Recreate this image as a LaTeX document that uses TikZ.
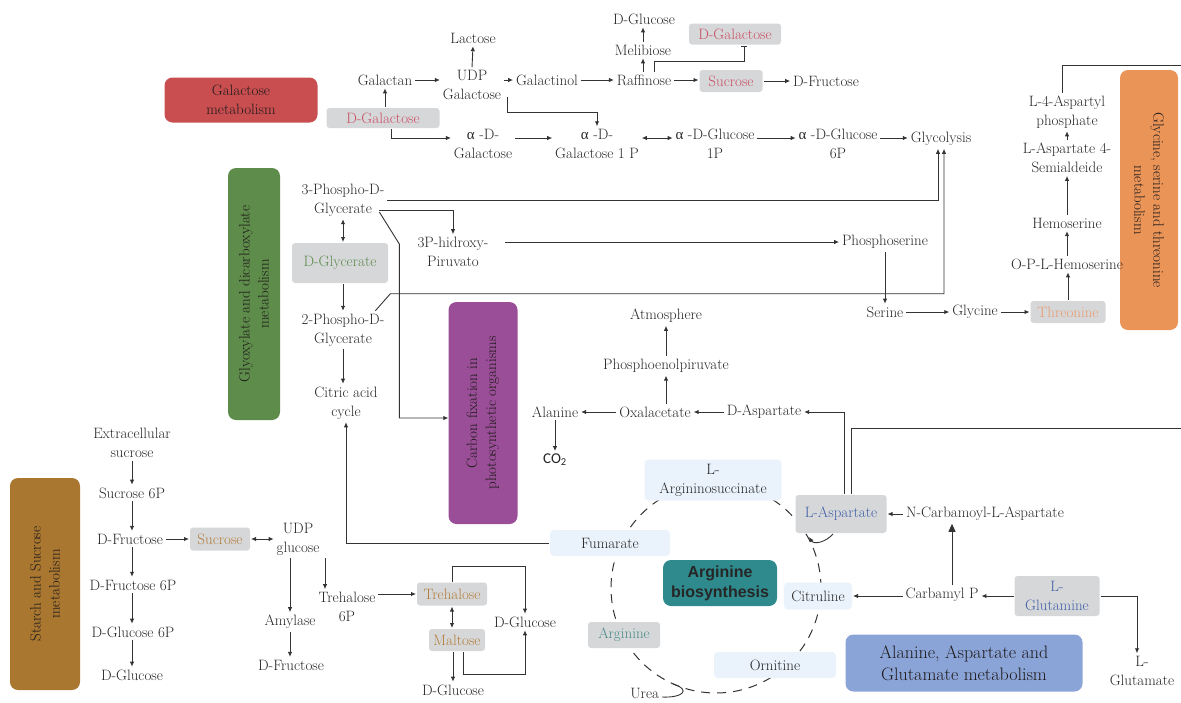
\documentclass[tikz,border=0pt]{standalone}
\usepackage{fontspec}
\newfontfamily\grk{Liberation Serif}
\newfontfamily\sansb{Liberation Sans}
\newfontfamily\carlito{Carlito}
\usetikzlibrary{arrows.meta}
\definecolor{txt}{HTML}{262626}
\definecolor{lin}{HTML}{333333}
\definecolor{boxtxt}{HTML}{1E1A1A}
\definecolor{gbg}{HTML}{D6D7D9}
\definecolor{lbg}{HTML}{EAF2FB}
\definecolor{cred}{HTML}{C84E50}
\definecolor{corange}{HTML}{EA9458}
\definecolor{cgreen}{HTML}{5E8C4A}
\definecolor{cpurple}{HTML}{9A4E97}
\definecolor{cbrown}{HTML}{A97730}
\definecolor{cteal}{HTML}{2E8A8D}
\definecolor{cblue}{HTML}{8BA4D8}
\definecolor{tred}{HTML}{C94E62}
\definecolor{torange}{HTML}{E89A6E}
\definecolor{tgreen}{HTML}{5C8A4C}
\definecolor{tblue}{HTML}{4060A8}
\definecolor{tbrown}{HTML}{B27D3A}
\definecolor{tteal}{HTML}{4A8A88}
\begin{document}
\begin{tikzpicture}[x=1pt,y=-1pt,
  every node/.style={inner sep=1pt},
  lbl/.style={align=center,font=\fontsize{15}{19}\selectfont,text=txt,outer sep=2pt},
  gbox/.style={lbl,fill=gbg,rounded corners=3pt,outer sep=1pt},
  lbox/.style={lbl,fill=lbg,rounded corners=4pt,outer sep=1pt},
  pbox/.style={align=center,font=\fontsize{15}{19}\selectfont,text=boxtxt,rounded corners=8pt},
  ln/.style={draw=lin,line width=0.9pt},
  arr/.style={ln,-{Latex[length=5pt,width=4.5pt]}},
  darr/.style={ln,{Latex[length=5pt,width=4.5pt]}-{Latex[length=5pt,width=4.5pt]}},
  bararr/.style={ln,-{Bar[width=6pt]}},
  dsh/.style={draw=lin,line width=1pt,dash pattern=on 9pt off 7pt},
]
\useasboundingbox (0,0) rectangle (1181,702);

% ---------- Galactose metabolism ----------
\node[pbox,fill=cred,minimum width=153,minimum height=45] (galbox) at (241,100) {Galactose\\metabolism};
\node[lbl] (galactan) at (385,80) {Galactan};
\node[lbl] (udpgal) at (472,85) {UDP\\Galactose};
\node[lbl] (lactose) at (473,38) {Lactose};
\node[gbox,text=tred,minimum width=113,minimum height=20] (dgal1) at (383,118) {D-Galactose};
\node[lbl] (agal) at (483,144) {{\grk α} -D-\\Galactose};
\node[lbl] (galactinol) at (547,80) {Galactinol};
\node[lbl] (agal1p) at (597,144) {{\grk α} -D-\\Galactose 1 P};
\node[lbl] (aglc1p) at (715,144) {{\grk α} -D-Glucose\\1P};
\node[lbl] (aglc6p) at (838,144) {{\grk α} -D-Glucose\\6P};
\node[lbl] (glycolysis) at (941,139) {Glycolysis};
\node[lbl] (raffinose) at (644,80) {Raffinose};
\node[gbox,text=tred,minimum width=63,minimum height=22] (sucrose1) at (731,81) {Sucrose};
\node[lbl] (dfru1) at (826,81) {D-Fructose};
\node[lbl] (melibiose) at (643,50) {Melibiose};
\node[lbl] (dglc1) at (644,19) {D-Glucose};
\node[gbox,text=tred,minimum width=92,minimum height=21] (dgal2) at (735,34) {D-Galactose};

\draw[arr] (galactan.east) -- (galactan.east -| udpgal.west);
\draw[arr] (udpgal.north) -- (lactose.south);
\draw[arr] (udpgal.north east |- galactinol.west) -- (galactinol.west);
\draw[arr] (dgal1.north -| galactan.south) -- (galactan.south);
\draw[arr] ([xshift=8pt]dgal1.south) |- ([yshift=6pt]agal.west);
\draw[arr] ([xshift=3pt,yshift=6pt]udpgal.south east) -- ++(0,16) -| (agal1p.north);
\draw[arr] ([yshift=6pt]agal.east) -- ([yshift=6pt]agal1p.west);
\draw[darr] ([yshift=6pt]agal1p.east) -- ([yshift=6pt]aglc1p.west);
\draw[arr] ([yshift=6pt]aglc1p.east) -- ([yshift=6pt]aglc6p.west);
\draw[arr] ([yshift=6pt]aglc6p.east) -- ([yshift=6pt]aglc6p.east -| glycolysis.west);
\draw[arr] (galactinol.east) -- (galactinol.east -| raffinose.west);
\draw[arr] (raffinose.east) -- (raffinose.east -| sucrose1.west);
\draw[arr] (sucrose1.east) -- (sucrose1.east -| dfru1.west);
\draw[arr] (raffinose.north -| melibiose.south) -- (melibiose.south);
\draw[arr] (melibiose.north) -- (melibiose.north |- dglc1.south);
\draw[bararr] ([xshift=10pt]raffinose.north) -- ++(0,-10) -| ([xshift=9pt]dgal2.south);

% ---------- Glycine, serine and threonine ----------
\node[pbox,fill=corange,rotate=-90,minimum width=260,minimum height=58] (glybox) at (1149,200) {Glycine, serine and threonine\\metabolism};
\node[lbl] (asph) at (1067,112) {L-4-Aspartyl\\phosphate};
\node[lbl] (asa) at (1067,158) {L-Aspartate 4-\\Semialdeide};
\node[lbl] (hem) at (1067,223) {Hemoserine};
\node[lbl] (oph) at (1067,264) {O-P-L-Hemoserine};
\node[gbox,text=torange,minimum width=75,minimum height=22] (thr) at (1068,312) {Threonine};
\node[lbl] (gly) at (975,312) {Glycine};
\node[lbl] (ser) at (885,312) {Serine};
\node[lbl] (phser) at (885,242) {Phosphoserine};
\coordinate (e1) at (1181,65);
\draw[arr] (thr.north) -- (thr.north |- oph.south);
\draw[arr] (oph.north) -- (hem.south);
\draw[arr] (hem.north) -- (asa.south);
\draw[arr] (asa.north) -- (asph.south);
\draw[ln] ([xshift=-5pt]asph.north) |- (e1);
\draw[arr] (ser.east) -- (ser.east -| gly.west);
\draw[arr] (ser.east -| gly.east) -- (ser.east -| thr.west);
\draw[arr] (phser.south) -- (ser.north);

% ---------- Glyoxylate ----------
\node[pbox,fill=cgreen,rotate=90,minimum width=252,minimum height=52] (glxbox) at (254,294) {Glyoxylate and dicarboxylate\\metabolism};
\node[lbl] (p3g) at (343,200) {3-Phospho-D-\\Glycerate};
\node[gbox,text=tgreen,minimum width=96,minimum height=40] (dglyc) at (340,263) {D-Glycerate};
\node[lbl] (p2g) at (343,330) {2-Phospho-D-\\Glycerate};
\node[lbl] (cac) at (346,403) {Citric acid\\cycle};
\node[lbl] (hpyr) at (453,252) {3P-hidroxy-\\Piruvato};
\draw[darr] (p3g.south) -- (p3g.south |- dglyc.north);
\draw[arr] (dglyc.south -| p3g.south) -- (p2g.north);
\draw[arr] (p2g.south) -- (p2g.south |- cac.north);
\draw[arr] (p3g.east) -| ([xshift=-3pt]glycolysis.south);
\draw[arr] ([xshift=-8pt,yshift=-10pt]p3g.east) -| (hpyr.north);
\draw[arr] ([xshift=14pt,yshift=10pt]hpyr.east) -- ([yshift=10pt]hpyr.east -| phser.west);
\draw[arr] ([xshift=-12pt]p2g.north east) -- ++(15,-17) -| ([xshift=3pt]glycolysis.south);

% ---------- Carbon fixation ----------
\node[pbox,fill=cpurple,rotate=90,minimum width=222,minimum height=69] (cfbox) at (483,413) {Carbon fixation in\\photosynthetic organisms};
\node[lbl] (atm) at (666,316) {Atmosphere};
\node[lbl] (pep) at (666,366) {Phosphoenolpiruvate};
\node[lbl] (oxa) at (655,412) {Oxalacetate};
\node[lbl] (ala) at (555,412) {Alanine};
\node[lbl] (co2) at (555,460) {\carlito CO\textsubscript{2}};
\node[lbl] (daspt) at (764,412) {D-Aspartate};
\draw[arr] ([xshift=-8pt,yshift=-12pt]p3g.east) -- ++(20,32) |- ([yshift=-5pt]cfbox.north);
\draw[arr] (pep.south |- oxa.north) -- (pep.south);
\draw[arr] (pep.north) -- (atm.south);
\draw[arr] (oxa.west) -- (ala.east);
\draw[arr] (oxa.east -| daspt.west) -- (oxa.east);
\draw[arr] (ala.south) -- (co2.north);

% ---------- Arginine cycle ----------
\draw[dsh] (716,588) circle[radius=105pt];
\coordinate (u1) at (673,684);
\coordinate (u2) at (662,697);
\coordinate (la) at (809,537);
\draw[ln] (u1) .. controls (692,690) and (682,698) .. (u2);
\node[lbox,minimum width=137,minimum height=41] (larg) at (713,480) {L-\\Argininosuccinate};
\node[gbox,text=tblue,minimum width=91,minimum height=38] (lasp) at (841,514) {L-Aspartate};
\node[lbl] (ncarb) at (985,514) {N-Carbamoyl-L-Aspartate};
\node[lbox,minimum width=120,minimum height=26] (fum) at (610,543) {Fumarate};
\node[pbox,fill=cteal,minimum width=114,minimum height=46,font=\sansb\bfseries\fontsize{16}{20}\selectfont,text=black!85] (argbio) at (720,583) {Arginine\\biosynthesis};
\node[lbox,minimum width=68,minimum height=27] (citr) at (818,596) {Citruline};
\node[lbl] (carbp) at (942,595) {Carbamyl P};
\node[gbox,text=tblue,minimum width=85,minimum height=40] (lgln) at (1057,596) {L-\\Glutamine};
\node[lbl] (lglu) at (1142,671) {L-\\Glutamate};
\node[gbox,text=tteal,minimum width=72,minimum height=26] (arg) at (624,635) {Arginine};
\node[lbox,minimum width=122,minimum height=26] (orn) at (775,665) {Ornitine};
\node[pbox,fill=cblue,minimum width=237,minimum height=57,font=\fontsize{18}{22}\selectfont] (aagbox) at (964,663) {Alanine, Aspartate and\\Glutamate metabolism};
\node[lbl,anchor=east] (urea) at (662,693) {Urea};
\coordinate (e2) at (1181,428);

\draw[arr] ([xshift=-8pt]lasp.south) .. controls (826,542) and (814,545) .. (la);
\draw[arr] ([xshift=3pt]lasp.north) |- (daspt.east);
\draw[ln] ([xshift=10pt]lasp.north) |- (e2);
\draw[arr] (lasp.east -| ncarb.west) -- (lasp.east);
\draw[ln,-{Triangle[length=8pt,width=7pt]}] ([xshift=10pt]carbp.north) -- ([xshift=10pt]carbp.north |- ncarb.south);
\draw[arr] (citr.east -| carbp.west) -- (citr.east);
\draw[arr] (lgln.west) -- (lgln.west -| carbp.east);
\draw[arr] (lgln.east) -| ([xshift=-5pt]lglu.north);
\draw[arr] (fum.west) -| (cac.south);

% ---------- Starch and Sucrose ----------
\node[pbox,fill=cbrown,rotate=90,minimum width=212,minimum height=70] (ssbox) at (45,584) {Starch and Sucrose\\metabolism};
\node[lbl] (exsuc) at (132,443) {Extracellular\\sucrose};
\node[lbl] (suc6p) at (132,493) {Sucrose 6P};
\node[lbl] (dfru2) at (130,539) {D-Fructose};
\node[lbl] (dfru6p) at (133,585) {D-Fructose 6P};
\node[lbl] (dglc6p) at (133,632) {D-Glucose 6P};
\node[lbl] (dglc2) at (132,675) {D-Glucose};
\node[gbox,text=tbrown,minimum width=60,minimum height=23] (sucrose2) at (220,539) {Sucrose};
\node[lbl] (udpglc) at (298,539) {UDP\\glucose};
\node[lbl] (amyl) at (290,622) {Amylase};
\node[lbl] (dfru3) at (291,665) {D-Fructose};
\node[lbl] (tre6p) at (347,607) {Trehalose\\6P};
\node[gbox,text=tbrown,minimum width=70,minimum height=23] (tre) at (452,594) {Trehalose};
\node[gbox,text=tbrown,minimum width=56,minimum height=22] (malt) at (457,640) {Maltose};
\node[lbl] (dglc3) at (453,690) {D-Glucose};
\node[lbl] (dglc4) at (525,622) {D-Glucose};

\draw[arr] (exsuc.south) -- (exsuc.south |- suc6p.north);
\draw[arr] (suc6p.south) -- (suc6p.south |- dfru2.north);
\draw[arr] (suc6p.south |- dfru2.south) -- (suc6p.south |- dfru6p.north);
\draw[arr] (suc6p.south |- dfru6p.south) -- (suc6p.south |- dglc6p.north);
\draw[arr] (suc6p.south |- dglc6p.south) -- (suc6p.south |- dglc2.north);
\draw[arr] (dfru2.east) -- (dfru2.east -| sucrose2.west);
\draw[darr] (sucrose2.east) -- (sucrose2.east -| udpglc.west);
\draw[arr] ([xshift=-8pt]udpglc.south) -- ([xshift=-8pt]udpglc.south |- amyl.north);
\draw[arr] (amyl.south) -- (amyl.south |- dfru3.north);
\draw[arr] ([xshift=27pt]udpglc.south) -- ([xshift=27pt]udpglc.south |- tre6p.north);
\draw[arr] (tre6p.east |- tre.west) -- (tre.west);
\draw[darr] (tre.south) -- (tre.south |- malt.north);
\draw[arr] ([xshift=-4pt]malt.south) -- ([xshift=-4pt]malt.south |- dglc3.north);
\draw[arr] (tre.north) -- ++(0,-15) -| (dglc4.north);
\draw[arr] ([xshift=6pt]malt.south) -- ++(0,22) -| (dglc4.south);
\end{tikzpicture}
\end{document}
